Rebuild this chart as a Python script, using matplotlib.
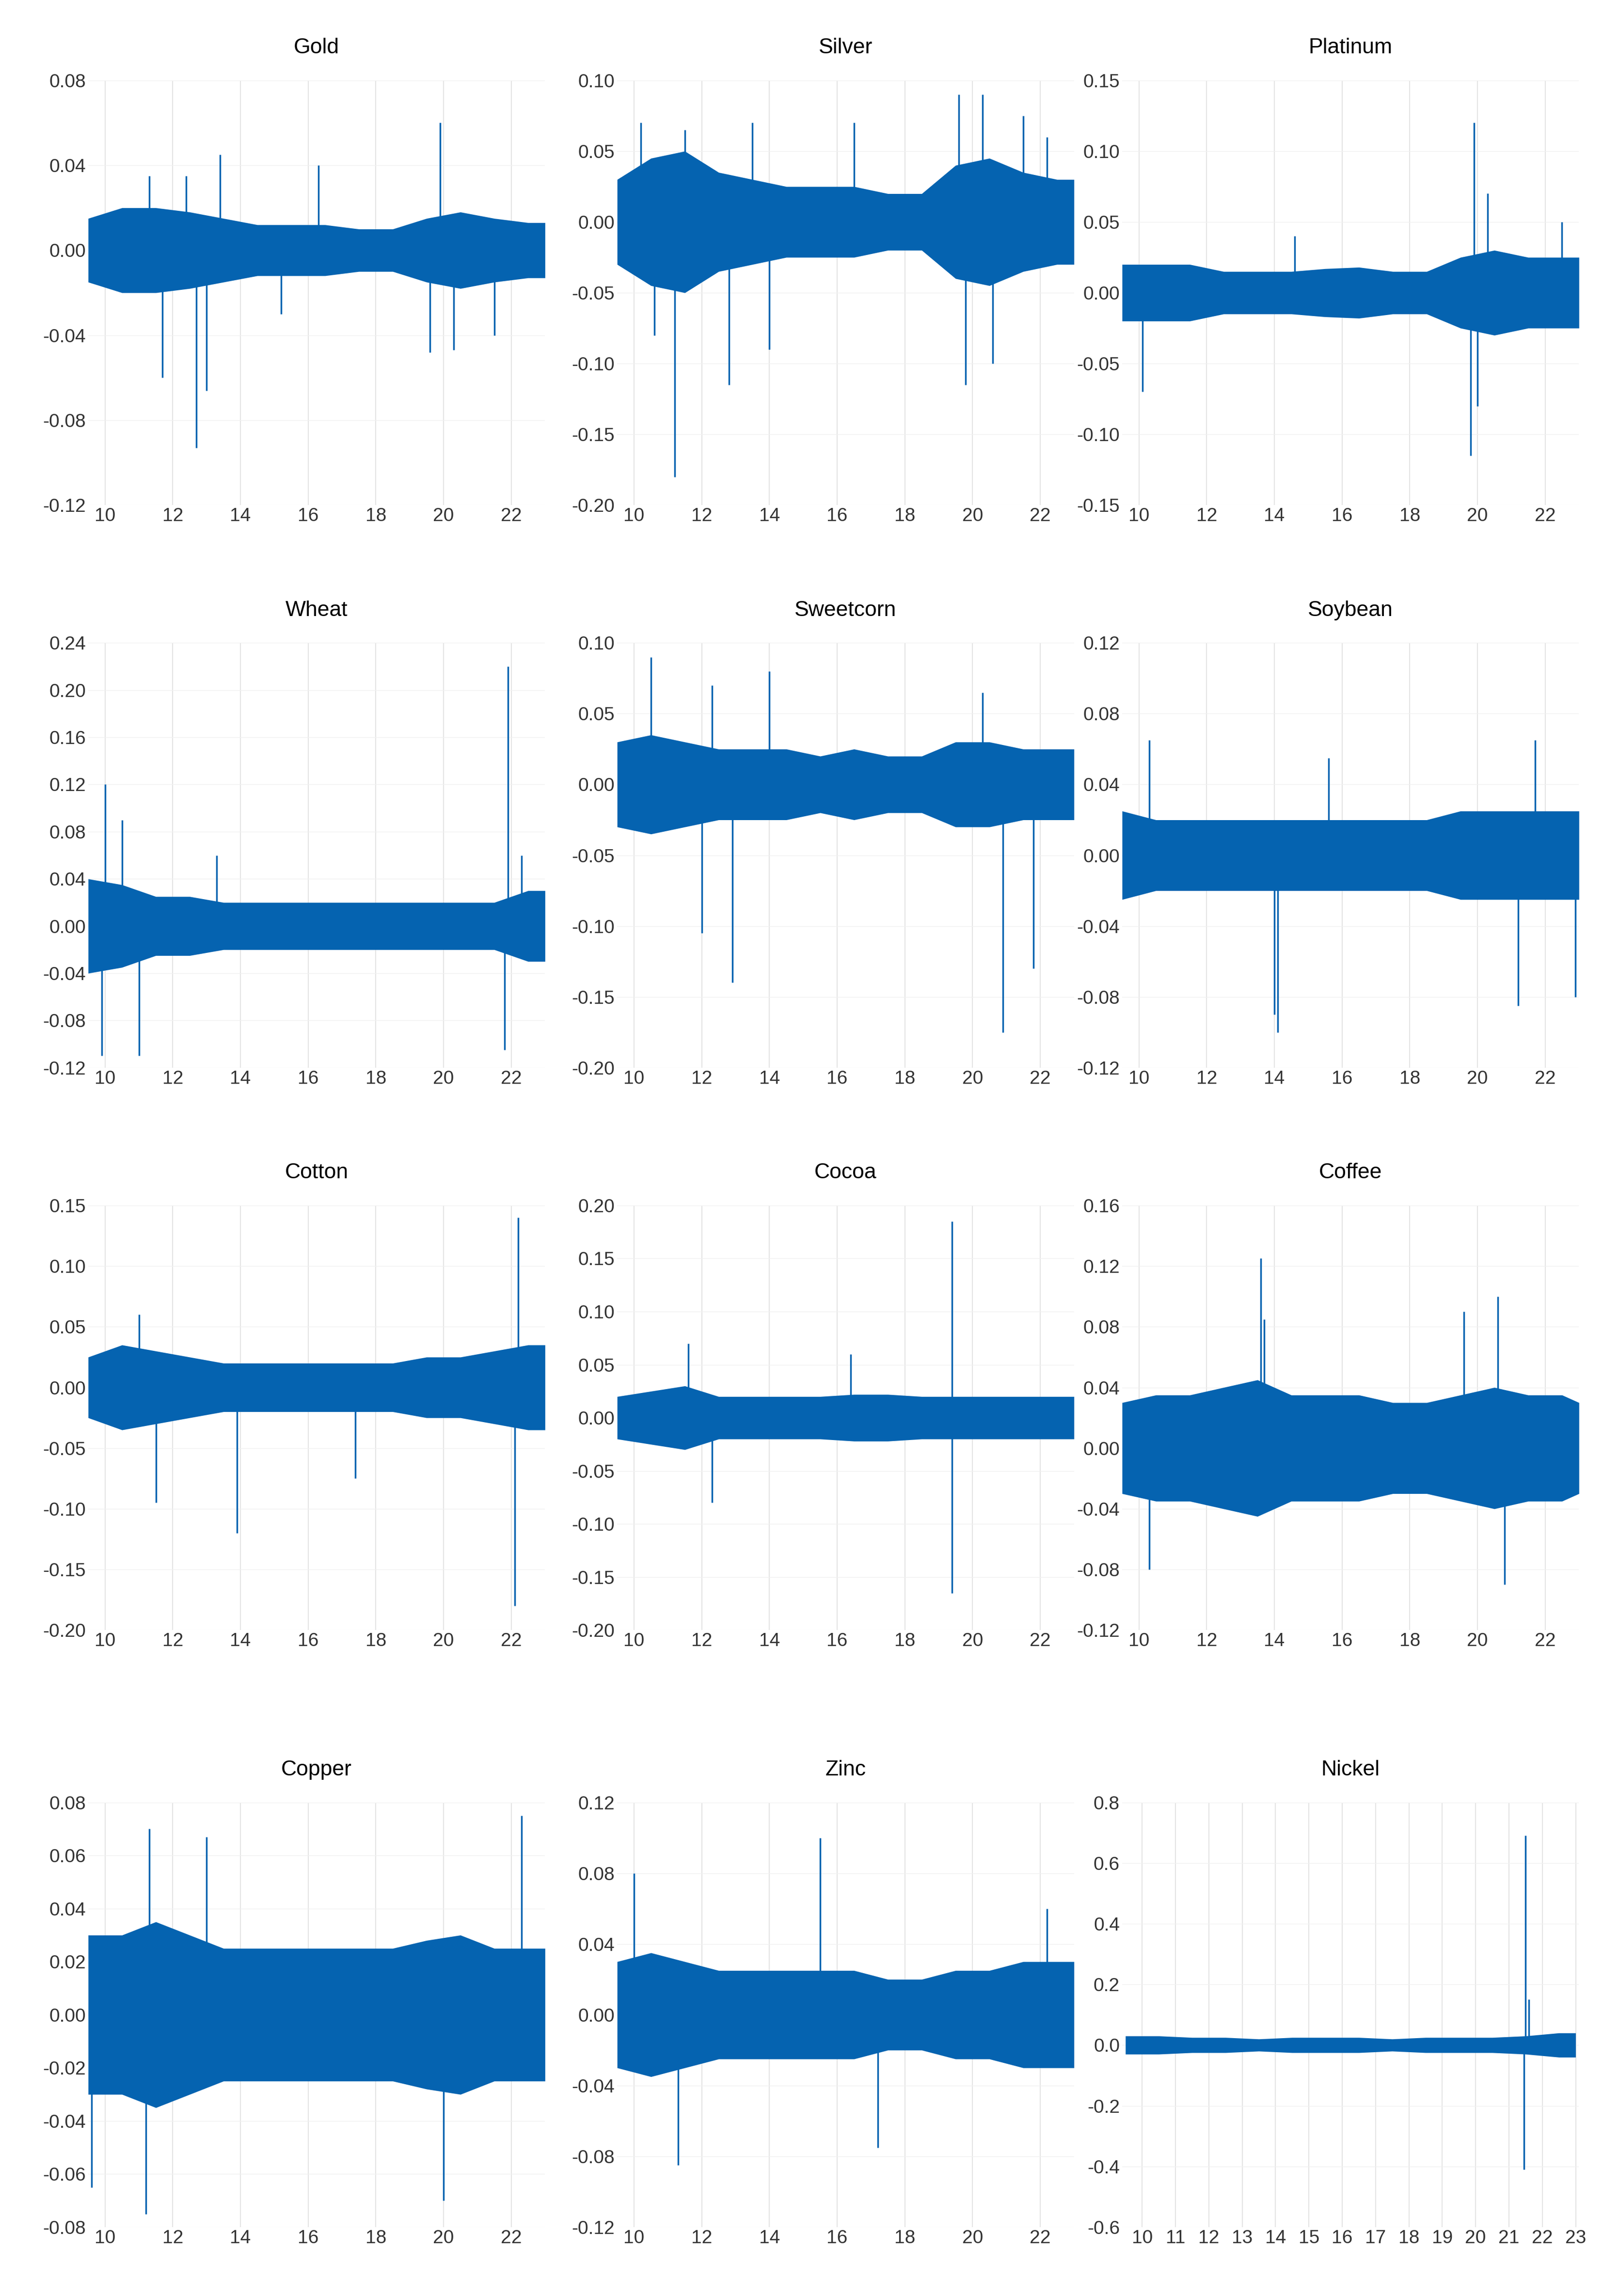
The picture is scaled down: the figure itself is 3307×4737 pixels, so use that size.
import matplotlib
matplotlib.use("Agg")
import matplotlib.pyplot as plt
import numpy as np

plt.rcParams['font.family'] = ['Liberation Sans', 'DejaVu Sans']

band_x = [9.5,10.5,11.5,12.5,13.5,14.5,15.5,16.5,17.5,18.5,19.5,20.5,21.5,22.5,23.0]

names = ["Gold","Silver","Platinum","Wheat","Sweetcorn","Soybean","Cotton","Cocoa","Coffee","Copper","Zinc","Nickel"]
ylims = [(-0.12,0.08),(-0.2,0.1),(-0.15,0.15),(-0.12,0.24),(-0.2,0.1),(-0.12,0.12),
         (-0.2,0.15),(-0.2,0.2),(-0.12,0.16),(-0.08,0.08),(-0.12,0.12),(-0.6,0.8)]
ysteps = [0.04,0.05,0.05,0.04,0.05,0.04,0.05,0.05,0.04,0.02,0.04,0.2]
ydec = [2,2,2,2,2,2,2,2,2,2,2,1]
bands = [
 [0.015,0.02,0.02,0.018,0.015,0.012,0.012,0.012,0.01,0.01,0.015,0.018,0.015,0.013,0.013],
 [0.03,0.045,0.05,0.035,0.03,0.025,0.025,0.025,0.02,0.02,0.04,0.045,0.035,0.03,0.03],
 [0.02,0.02,0.02,0.015,0.015,0.015,0.017,0.018,0.015,0.015,0.025,0.03,0.025,0.025,0.025],
 [0.04,0.035,0.025,0.025,0.02,0.02,0.02,0.02,0.02,0.02,0.02,0.02,0.02,0.03,0.03],
 [0.03,0.035,0.03,0.025,0.025,0.025,0.02,0.025,0.02,0.02,0.03,0.03,0.025,0.025,0.025],
 [0.025,0.02,0.02,0.02,0.02,0.02,0.02,0.02,0.02,0.02,0.025,0.025,0.025,0.025,0.025],
 [0.025,0.035,0.03,0.025,0.02,0.02,0.02,0.02,0.02,0.02,0.025,0.025,0.03,0.035,0.035],
 [0.02,0.025,0.03,0.02,0.02,0.02,0.02,0.022,0.022,0.02,0.02,0.02,0.02,0.02,0.02],
 [0.03,0.035,0.035,0.04,0.045,0.035,0.035,0.035,0.03,0.03,0.035,0.04,0.035,0.035,0.03],
 [0.03,0.03,0.035,0.03,0.025,0.025,0.025,0.025,0.025,0.025,0.028,0.03,0.025,0.025,0.025],
 [0.03,0.035,0.03,0.025,0.025,0.025,0.025,0.025,0.02,0.02,0.025,0.025,0.03,0.03,0.03],
 [0.03,0.03,0.025,0.025,0.02,0.025,0.025,0.025,0.02,0.025,0.025,0.025,0.03,0.04,0.04],
]
spikes = [
 [(11.7,-0.06),(12.7,-0.093),(13.0,-0.066),(12.4,0.035),(13.4,0.045),(16.3,0.04),(19.9,0.06),(19.6,-0.048),(20.3,-0.047),(21.5,-0.04),(15.2,-0.03),(11.3,0.035)],
 [(10.2,0.07),(11.2,-0.18),(11.5,0.065),(12.8,-0.115),(13.5,0.07),(16.5,0.07),(19.6,0.09),(19.8,-0.115),(20.3,0.09),(20.6,-0.1),(21.5,0.075),(22.2,0.06),(10.6,-0.08),(14.0,-0.09)],
 [(19.9,0.12),(19.8,-0.115),(20.3,0.07),(10.1,-0.07),(20.0,-0.08),(22.5,0.05),(14.6,0.04)],
 [(10.0,0.12),(9.9,-0.11),(11.0,-0.11),(21.9,0.22),(21.8,-0.105),(22.3,0.06),(10.5,0.09),(13.3,0.06)],
 [(10.5,0.09),(12.0,-0.105),(12.9,-0.14),(14.0,0.08),(20.9,-0.175),(21.8,-0.13),(12.3,0.07),(20.3,0.065)],
 [(10.3,0.065),(14.1,-0.1),(14.0,-0.09),(15.6,0.055),(21.2,-0.085),(21.7,0.065),(22.9,-0.08)],
 [(22.2,0.14),(22.1,-0.18),(13.9,-0.12),(11.5,-0.095),(17.4,-0.075),(11.0,0.06)],
 [(19.4,0.185),(19.4,-0.165),(11.6,0.07),(12.3,-0.08),(16.4,0.06)],
 [(13.6,0.125),(13.7,0.085),(20.8,-0.09),(20.6,0.1),(10.3,-0.08),(19.6,0.09)],
 [(11.3,0.07),(11.2,-0.075),(13.0,0.067),(20.0,-0.07),(22.3,0.075),(9.6,-0.065)],
 [(10.0,0.08),(11.3,-0.085),(15.5,0.1),(17.2,-0.075),(22.2,0.06)],
 [(21.5,0.69),(21.45,-0.41),(21.6,0.15)],
]

color = "#0563b0"
fig = plt.figure(figsize=(33.07, 47.37), dpi=100)
lefts = [0.055, 0.385, 0.70]
w = 0.285
bottoms = [0.78, 0.535, 0.29, 0.03]
h = 0.185
for i, name in enumerate(names):
    r, c = divmod(i, 3)
    ax = fig.add_axes([lefts[c], bottoms[r], w, h])
    ax.set_axisbelow(True)
    bx = np.array(band_x); bv = np.array(bands[i])
    ax.fill_between(bx, -bv, bv, color=color, lw=0, zorder=2)
    for (sx, sy) in spikes[i]:
        ax.vlines(sx, 0, sy, color=color, lw=2.5, zorder=2)
    lo, hi = ylims[i]
    ax.set_ylim(lo, hi)
    yt = np.round(np.arange(lo, hi + 1e-9, ysteps[i]), 3) + 0.0
    yt[np.abs(yt) < 1e-9] = 0.0
    ax.set_yticks(yt)
    ax.set_yticklabels([f"{abs(v) if v == 0 else v:.{ydec[i]}f}" for v in yt])
    if name == "Nickel":
        xt = list(range(10, 24)); ax.set_xlim(9.4, 23.1)
    else:
        xt = list(range(10, 23, 2)); ax.set_xlim(9.5, 23.0)
    ax.set_xticks(xt)
    ax.grid(axis='x', color='#e4e4e4', lw=1.5, zorder=0)
    ax.grid(axis='y', color='#f0f0f0', lw=1, zorder=0)
    for s in ax.spines.values():
        s.set_visible(False)
    ax.tick_params(length=0, labelsize=28, colors='#333333')
    ax.set_title(name, fontsize=32, pad=40)
fig.savefig("out.png", dpi=100)
